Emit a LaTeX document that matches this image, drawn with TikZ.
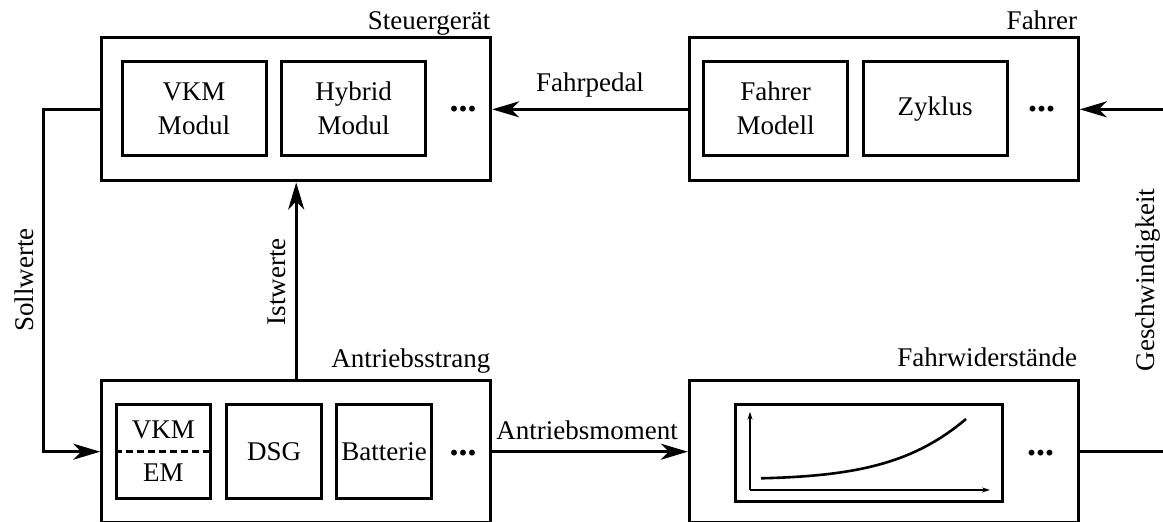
\documentclass[tikz,border=0pt]{standalone}
\usepackage{fontspec}
\setmainfont{Liberation Serif}
\usetikzlibrary{arrows.meta}
\begin{document}
\begin{tikzpicture}[x=0.5pt,y=-0.5pt,
  every node/.style={font=\fontsize{13.5}{17}\selectfont},
  outerbox/.style={draw, line width=1.5pt, minimum width=194.5pt, inner sep=0},
  innerbox/.style={draw, line width=1.5pt, inner sep=0, align=center},
  modbox/.style={innerbox, minimum width=72pt, minimum height=47pt},
  partbox/.style={innerbox, minimum width=47.35pt, minimum height=47.2pt},
  txt/.style={inner sep=0},
  moredots/.style={inner sep=0, anchor=base, font=\fontsize{18}{20}\selectfont\bfseries},
  flow/.style={line width=1.5pt, -{Stealth[length=13.5pt, width=8pt, inset=4pt]}},
  wire/.style={line width=1.5pt},
  axis/.style={line width=0.6pt, -{Stealth[length=4pt, width=2.5pt]}},
  vlabel/.style={inner sep=0, rotate=90, anchor=base}]
\clip (0,0) rectangle (1163,522);

% main blocks
\node[outerbox, minimum height=71.65pt] (steuer) at (296.2,109.35) {};
\node[outerbox, minimum height=71.65pt] (fahrer) at (883.8,109.35) {};
\node[outerbox, minimum height=71pt] (antrieb) at (296.2,451.7) {};
\node[outerbox, minimum height=71pt] (fahrw) at (883.8,451.7) {};

% block titles
\node[txt, anchor=base east] (tsteuer) at (490.7,29.3) {Steuergerät};
\node[txt, anchor=base east] (tfahrer) at (1077.6,29.3) {Fahrer};
\node[txt, anchor=base east] (tantrieb) at (490.7,368) {Antriebsstrang};
\node[txt, anchor=base east] (tfahrw) at (1077.6,366.7) {Fahrwiderstände};

% control unit modules
\node[modbox] (vkm) at (194,108.7) {VKM\\Modul};
\node[modbox] (hyb) at (353.7,108.7) {Hybrid\\Modul};
\node[moredots] (sdots) at (463,112) {...};

% driver modules
\node[modbox] (fmod) at (775.6,108.7) {Fahrer\\Modell};
\node[modbox] (zyk) at (935,108.7) {Zyklus};
\node[moredots] (fdots) at (1041.5,112) {...};

% powertrain components
\node[partbox] (vkmem) at (163.4,451.5) {};
\node[txt, anchor=base] (tvkm) at (163.4,438.3) {VKM};
\node[txt, anchor=base] (tem) at (163.4,481.7) {EM};
\draw[line width=1.2pt, dash pattern=on 3.5pt off 2pt] (vkmem.west) -- (vkmem.east);
\node[partbox] (dsg) at (274.2,451.5) {DSG};
\node[partbox] (batt) at (384.2,451.5) {Batterie};
\node[moredots] (adots) at (463,456) {...};

% driving resistance characteristic
\node[innerbox, minimum width=133.9pt, minimum height=48.4pt] (plot) at (868.9,452.7) {};
\coordinate (po) at (750,490);
\coordinate (py) at (750,411.7);
\coordinate (px) at (990,490);
\draw[axis] (po) -- (py);
\draw[axis] (po) -- (px);
\draw[line width=1.3pt] (761,478.3) .. controls (860,476) and (915,462) .. (966,419);
\node[moredots] (wdots) at (1040.5,456) {...};

% signal flow
\draw[flow] (fahrer.west) -- (steuer.east);
\node[txt, anchor=base] (lpedal) at (590,91.7) {Fahrpedal};

\draw[flow] (antrieb.east) -- (fahrw.west);
\node[txt, anchor=base] (lmoment) at (587.2,439.3) {Antriebsmoment};

\draw[flow] (antrieb.north) -- (steuer.south);
\node[vlabel] (list) at (285,281.7) {Istwerte};

\coordinate (sollknick) at (43,109.35);
\draw[flow] (steuer.west) -- (sollknick) |- (antrieb.west);
\node[vlabel] (lsoll) at (33.3,280) {Sollwerte};

\coordinate (vin) at (1170,109.35);
\coordinate (vout) at (1170,451.7);
\draw[flow] (vin) -- (fahrer.east);
\draw[wire] (fahrw.east) -- (vout);
\node[vlabel] (lgesch) at (1154,280) {Geschwindigkeit};
\end{tikzpicture}
\end{document}
